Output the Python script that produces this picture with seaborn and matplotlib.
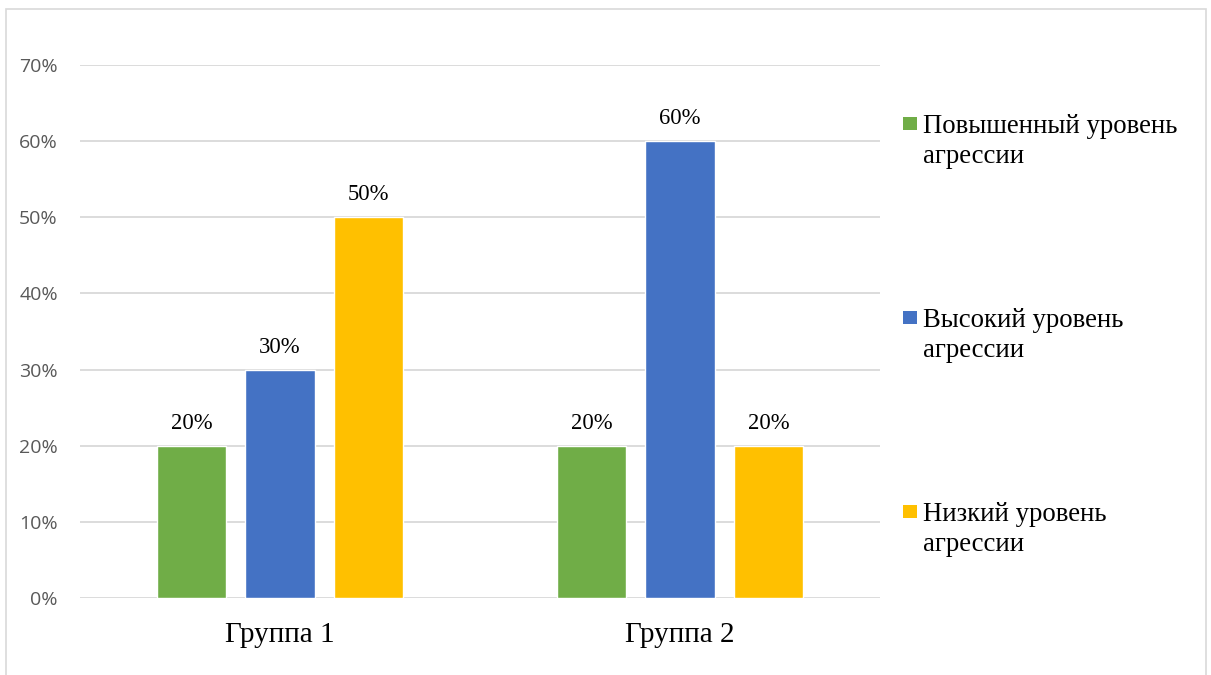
import matplotlib
matplotlib.use("Agg")
import matplotlib.pyplot as plt
from matplotlib.patches import Rectangle
from matplotlib.ticker import PercentFormatter
import seaborn as sns
import pandas as pd

# Chart data
groups = ["Группа 1", "Группа 2"]
levels = ["Повышенный уровень\nагрессии", "Высокий уровень\nагрессии", "Низкий уровень\nагрессии"]
values_elevated = [0.20, 0.20]
values_high = [0.30, 0.60]
values_low = [0.50, 0.20]
colors = ["#70AD47", "#4472C4", "#FFC000"]
y_ticks = [0.0, 0.1, 0.2, 0.3, 0.4, 0.5, 0.6, 0.7]

rows = []
for lvl, vals in zip(levels, [values_elevated, values_high, values_low]):
    for g, v in zip(groups, vals):
        rows.append({"group": g, "level": lvl, "value": v})
df = pd.DataFrame(rows)

sns.set_theme(style="white")
serif = ["Liberation Serif", "DejaVu Serif"]
sans = ["Open Sans", "DejaVu Sans"]

W, H = 1211, 675
fig = plt.figure(figsize=(W / 100, H / 100), dpi=100)
ax = fig.add_axes([80 / W, (H - 598) / H, 800 / W, (598 - 65) / H])

sns.barplot(data=df, x="group", y="value", hue="level", hue_order=levels,
            order=groups, palette=colors, width=0.664, gap=0.22,
            saturation=1, ax=ax, legend=False)

for cont in ax.containers:
    ax.bar_label(cont, labels=[f"{v * 100:.0f}%" for v in cont.datavalues],
                 padding=8.5, fontsize=16.3, family=serif, color="#000000")

ax.set_xlim(-0.5, 1.5)
ax.set_ylim(0, 0.7)
ax.set_yticks(y_ticks)
ax.yaxis.set_major_formatter(PercentFormatter(1.0, decimals=0))
ax.grid(axis="y", color="#D9D9D9", linewidth=1.3)
ax.set_axisbelow(True)
for s in ax.spines.values():
    s.set_visible(False)
ax.set_xlabel("")
ax.set_ylabel("")
ax.tick_params(axis="y", length=0, pad=16, labelsize=14, labelcolor="#595959")
ax.tick_params(axis="x", length=0, pad=17.5, labelsize=21, labelcolor="#000000")
for t in ax.get_yticklabels():
    t.set_family(sans)
for t in ax.get_xticklabels():
    t.set_family(serif)

# Legend on the right: square marker beside the first line of each label
px = lambda x: x / W
py = lambda y: 1 - y / H
for i, (lvl, col) in enumerate(zip(levels, colors)):
    top = 117 + 194 * i
    fig.patches.append(Rectangle((px(903), py(top + 13)), 14 / W, 13 / H,
                                 transform=fig.transFigure, facecolor=col,
                                 edgecolor="none"))
    for k, line in enumerate(lvl.split("\n")):
        fig.text(px(923), py(top + 16 + 30 * k), line, ha="left", va="baseline",
                 fontsize=19.3, family=serif, color="#000000")

# Outer chart frame
fig.patches.append(Rectangle((6 / W, -0.05), 1200 / W, 1.05 - 9 / H,
                             transform=fig.transFigure, fill=False,
                             edgecolor="#D9D9D9", linewidth=1.2))

fig.savefig("out.png", dpi=100)
